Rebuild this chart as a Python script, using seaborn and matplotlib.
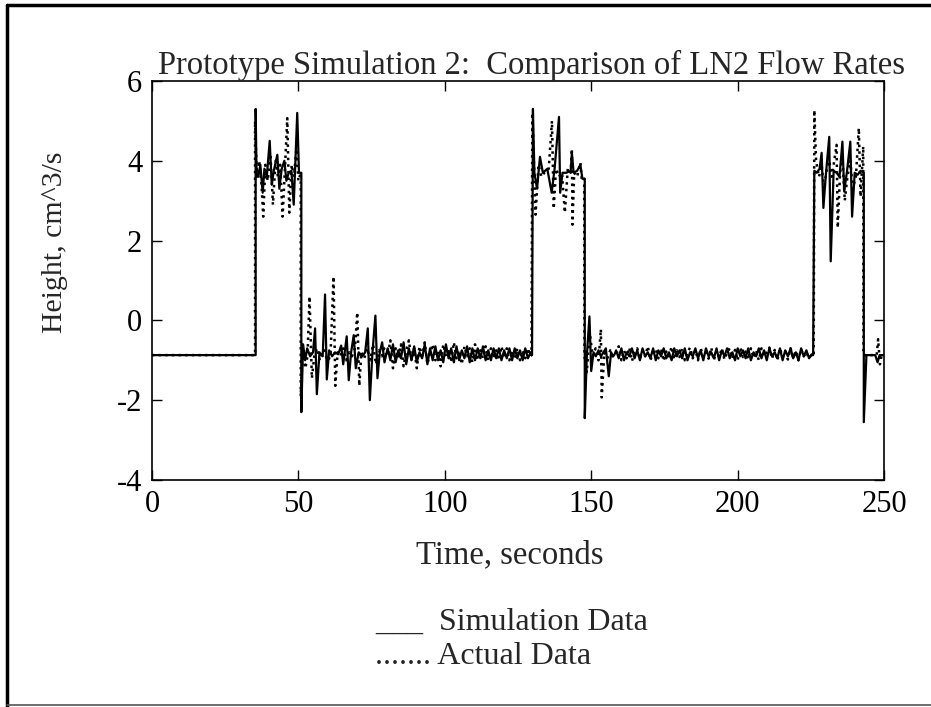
import numpy as np
import pandas as pd
import matplotlib.pyplot as plt
import seaborn as sns
from matplotlib.lines import Line2D

# --- Data ---
# Simulation Data (solid line), pieces around the three high-flow windows
sim_a_t = [0, 35.4, 35.4, 35.7, 36.3, 37.0, 37.8, 38.4, 39.2, 40.2, 40.9, 41.6, 42.8, 43.5,
           44.3, 45.2, 45.9, 46.7, 47.6, 48.4, 49.6, 50.2, 51.0, 51.0, 51.6, 52.3, 53.0, 54.0,
           55.0, 55.7, 56.3, 57.2, 58.3, 59.1, 59.7, 60.5, 61.5, 62.5, 63.6, 64.6, 65.3, 66.5,
           67.2, 68.0, 68.9, 69.6, 70.6, 71.8, 72.8, 73.7, 74.4, 75.3, 76.3, 77.0, 77.8, 78.6,
           79.4, 80.0]
sim_a_y = [-0.87, -0.87, 5.3, 3.7, 3.6, 3.9, 3.2, 3.8, 3.6, 4.5, 3.4, 3.75, 4.15, 3.3,
           3.8, 4.0, 3.5, 3.7, 3.75, 2.9, 5.2, 3.7, 3.7, -2.3, -0.6, -1.0, -0.7, -0.9,
           -0.8, -0.2, -1.85, -0.8, -0.9, 0.65, -1.48, -0.75, -0.9, -0.8, -0.85, -0.63, -1.1, -0.4,
           -1.5, -0.8, -0.37, -1.2, -0.8, -0.9, -0.8, -0.2, -2.0, -0.8, 0.12, -1.45, -0.8, -0.55,
           -1.05, -0.85]
sim_band1 = [-0.7, -1.0, -0.6, -1.05, -0.75, -0.95, -0.55, -1.1, -0.7, -1.0,
             -0.65, -1.05, -0.8, -0.95, -0.6, -1.1, -0.7, -1.0, -0.65, -1.0,
             -0.75, -1.05, -0.6, -0.95, -0.7, -1.05, -0.65, -1.0, -0.75, -0.95,
             -0.65, -1.05, -0.7, -1.0, -0.7, -0.95, -0.65, -1.0, -0.75, -1.0,
             -0.7, -0.95, -0.7, -1.0, -0.75, -0.95, -0.7, -1.0, -0.7, -0.95,
             -0.75, -1.0, -0.7, -0.95, -0.8]
sim_b_t = [129.5, 129.8, 130.1, 130.6, 131.5, 132.5, 133.5, 135.0, 136.5, 137.5, 139.0, 139.4,
           140.2, 141.5, 143.0, 143.4, 144.0, 145.2, 146.3, 147.0, 147.8, 147.8, 148.5, 149.4,
           150.0, 150.8, 151.6, 152.5, 153.3, 154.2, 155.0, 156.0, 156.8, 157.5, 158.0]
sim_b_y = [-0.87, -0.87, 5.3, 3.7, 3.3, 4.1, 3.7, 3.8, 3.2, 3.8, 5.1, 3.2,
           3.7, 3.7, 3.75, 4.2, 3.7, 3.75, 3.9, 3.55, 3.55, -2.45, -0.9, 0.1,
           -1.27, -0.8, -0.9, -0.75, -0.9, -0.8, -0.7, -1.4, -0.8, -0.9, -0.85]
sim_band2 = [-0.75, -0.95, -0.7, -1.0, -0.8, -0.9, -0.7, -0.95, -0.75, -1.0,
             -0.7, -0.9, -0.8, -0.95, -0.7, -1.0, -0.75, -0.9, -0.7, -0.95,
             -0.8, -1.0, -0.7, -0.9, -0.75, -0.95, -0.7, -1.0, -0.8, -0.9,
             -0.7, -0.95, -0.75, -1.0, -0.7, -0.9, -0.8, -0.95, -0.7, -1.0,
             -0.75, -0.9, -0.7, -0.95, -0.8, -1.0, -0.7, -0.9, -0.75, -0.95,
             -0.7, -1.0, -0.8, -0.9, -0.7, -0.95, -0.75, -1.0, -0.7, -0.9,
             -0.8, -0.95, -0.7, -1.0, -0.75, -0.9, -0.7, -0.95, -0.8, -1.0,
             -0.7, -0.9, -0.75, -0.95, -0.85]
sim_c_t = [225.5, 225.8, 226.2, 227.0, 228.0, 228.7, 229.3, 230.2, 231.3, 231.8, 232.8, 233.8,
           234.8, 235.8, 236.4, 237.3, 238.5, 239.1, 240.0, 241.0, 242.0, 243.1, 243.1, 244.0,
           245.5, 247.0, 247.8, 248.5, 250.0]
sim_c_y = [-0.87, -0.87, 3.75, 3.7, 3.8, 4.2, 2.82, 3.7, 4.6, 1.48, 3.75, 3.7,
           3.6, 4.48, 3.23, 3.7, 4.48, 2.6, 3.7, 3.65, 3.75, 3.7, -2.55, -0.87,
           -0.87, -0.87, -1.05, -0.87, -0.87]

# Actual Data (dotted line)
act_a_t = [0, 35.2, 35.2, 35.8, 36.6, 37.4, 38.0, 38.7, 39.5, 40.5, 41.3, 42.2, 43.0, 43.8,
           44.6, 45.4, 46.2, 46.9, 47.7, 48.5, 49.3, 50.0, 50.8, 50.8, 51.5, 52.4, 53.1, 53.8,
           54.6, 55.5, 56.4, 57.3, 58.2, 59.0, 60.0, 61.0, 62.0, 62.6, 63.4, 64.3, 65.3, 66.3,
           67.3, 68.3, 69.3, 70.1, 70.8, 71.5, 72.5, 73.5, 74.5, 75.5, 76.5, 77.5, 78.5, 79.3,
           80.0]
act_a_y = [-0.87, -0.87, 5.0, 3.6, 4.0, 3.4, 2.6, 3.9, 3.5, 4.1, 2.9, 4.0, 3.6, 3.9,
           2.6, 3.8, 5.07, 2.7, 3.9, 3.6, 4.3, 3.5, 3.7, -1.9, -0.7, -1.2, -0.9, 0.6,
           -1.45, -0.85, -0.7, -1.0, -0.8, -0.75, -1.1, -0.8, 1.1, -1.64, -0.8, -0.9, -0.7, -1.0,
           -0.8, -0.9, -0.7, 0.2, -1.64, -0.8, -0.95, -0.7, -1.0, -0.6, -1.1, -0.75, -0.9, -0.7,
           -0.85]
act_band1 = [-0.9, -0.5, -1.2, -0.7, -0.95, -0.6, -1.15, -0.75, -0.5, -1.0,
             -0.7, -1.2, -0.65, -0.9, -0.55, -1.1, -0.8, -0.6, -1.0, -0.75,
             -1.15, -0.6, -0.9, -0.7, -1.05, -0.55, -0.95, -0.75, -1.1, -0.65,
             -0.9, -0.7, -1.05, -0.6, -1.0, -0.75, -0.95, -0.65, -1.0, -0.7,
             -0.95, -0.75, -1.0, -0.65, -0.95, -0.7, -1.0, -0.75, -0.95, -0.7,
             -1.0, -0.75, -0.95, -0.7, -0.9]
act_b_t = [129.5, 129.6, 129.9, 131.0, 132.0, 133.0, 134.0, 135.5, 136.6, 137.2, 138.0, 139.0,
           140.0, 141.0, 142.0, 143.0, 143.4, 143.6, 144.2, 145.2, 146.3, 146.8, 147.6, 147.7,
           148.5, 149.5, 150.5, 151.5, 152.5, 153.3, 153.6, 154.5, 155.5, 156.5, 157.3, 158.0]
act_b_y = [-0.87, -0.87, 5.2, 2.65, 3.9, 3.6, 3.7, 3.8, 5.0, 2.8, 3.8, 3.6,
           3.7, 2.7, 3.8, 3.7, 4.3, 2.4, 3.7, 3.6, 3.95, 3.5, 3.55, -0.9,
           -1.3, -0.3, -0.9, -0.7, -1.0, -0.22, -1.93, -0.8, -0.95, -0.75, -0.9, -0.85]
act_band2 = [-0.85, -0.65, -1.0, -0.75, -0.95, -0.68, -1.02, -0.8, -0.7, -0.98,
             -0.75, -0.9, -0.65, -1.0, -0.8, -0.72, -0.95, -0.7, -1.02, -0.78,
             -0.9, -0.66, -0.98, -0.75, -0.92, -0.7, -1.0, -0.8, -0.68, -0.95,
             -0.74, -1.0, -0.7, -0.9, -0.78, -0.96, -0.68, -1.0, -0.76, -0.92,
             -0.7, -0.98, -0.8, -0.7, -0.95, -0.74, -1.0, -0.68, -0.92, -0.78,
             -0.98, -0.7, -0.94, -0.76, -1.0, -0.7, -0.9, -0.8, -0.68, -0.96,
             -0.74, -1.0, -0.7, -0.92, -0.78, -0.98, -0.7, -0.94, -0.76, -1.0,
             -0.72, -0.9, -0.8, -0.95, -0.85]
act_c_t = [225.5, 226.0, 226.2, 226.8, 227.8, 228.7, 229.5, 230.5, 231.3, 232.2, 233.8, 234.2,
           235.0, 235.8, 236.6, 237.5, 238.5, 239.3, 240.4, 241.4, 242.0, 242.9, 243.0, 243.6,
           245.0, 246.5, 247.5, 248.0, 248.6, 249.2, 250.0]
act_c_y = [-0.87, -0.87, 5.27, 4.0, 3.6, 3.9, 3.3, 3.8, 4.0, 3.6, 4.4, 2.32,
           3.7, 4.1, 3.0, 3.6, 4.0, 3.3, 3.6, 4.82, 3.1, 4.36, -0.87, -0.87,
           -0.87, -0.87, -0.87, -0.47, -1.1, -0.87, -0.87]

# time spans covered by the noisy low-flow bands
band1_span = (80.5, 129.3)
band2_span = (158.5, 225.3)


def build(a_t, a_y, band1, b_t, b_y, band2, c_t, c_y):
    t = np.concatenate([a_t, np.linspace(*band1_span, len(band1)), b_t,
                        np.linspace(*band2_span, len(band2)), c_t])
    y = np.concatenate([a_y, band1, b_y, band2, c_y])
    return pd.DataFrame({"time": t, "flow": y})


sim = build(sim_a_t, sim_a_y, sim_band1, sim_b_t, sim_b_y, sim_band2, sim_c_t, sim_c_y)
act = build(act_a_t, act_a_y, act_band1, act_b_t, act_b_y, act_band2, act_c_t, act_c_y)

# --- Plot ---
sns.set_style("ticks")
plt.rcParams['font.family'] = ['Liberation Serif', 'DejaVu Serif']
plt.rcParams['axes.unicode_minus'] = False

fig = plt.figure(figsize=(9.31, 7.07), dpi=100)
ax = fig.add_axes([152 / 931, 1 - 480 / 707, (884 - 152) / 931, (480 - 81) / 707])

sns.lineplot(data=sim, x="time", y="flow", ax=ax, color="black", linewidth=1.6,
             estimator=None, sort=False)
sns.lineplot(data=act, x="time", y="flow", ax=ax, color="black", linewidth=1.8,
             linestyle=":", estimator=None, sort=False)

ax.set_xlim(0, 250)
ax.set_ylim(-4, 6)
ax.set_xticks([0, 50, 100, 150, 200, 250])
ax.set_yticks([-4, -2, 0, 2, 4, 6])
ax.set_xlabel("")
ax.set_ylabel("")
ax.tick_params(direction="in", top=True, right=True, length=7, width=1,
               labelsize=22, pad=7, colors="black")
for s in ax.spines.values():
    s.set_linewidth(1.2)
    s.set_color("black")

fig.text(531 / 931, 1 - 74 / 707, "Prototype Simulation 2:  Comparison of LN2 Flow Rates",
         ha="center", va="baseline", fontsize=23.5)
fig.text(510 / 931, 1 - 555 / 707, "Time, seconds", ha="center", va="center", fontsize=23.5)
fig.text(55 / 931, 1 - 242 / 707, "Height, cm^3/s", ha="center", va="center",
         rotation=90, fontsize=21.5)
fig.text(375 / 931, 1 - 622 / 707, "___  Simulation Data", ha="left", va="center", fontsize=23)
fig.text(375 / 931, 1 - 657 / 707, "....... Actual Data", ha="left", va="center", fontsize=23)

# scanned page frame
fig.add_artist(Line2D([7 / 931, 7 / 931], [1 - 706 / 707, 1 - 5 / 707], color="black",
                      linewidth=2.5, transform=fig.transFigure))
fig.add_artist(Line2D([7 / 931, 1.0], [1 - 5 / 707, 1 - 5 / 707], color="black",
                      linewidth=2.5, transform=fig.transFigure))
fig.add_artist(Line2D([7 / 931, 1.0], [1 - 705 / 707, 1 - 705 / 707], color="#555555",
                      linewidth=1.2, transform=fig.transFigure))

plt.savefig("out.png", dpi=100)
